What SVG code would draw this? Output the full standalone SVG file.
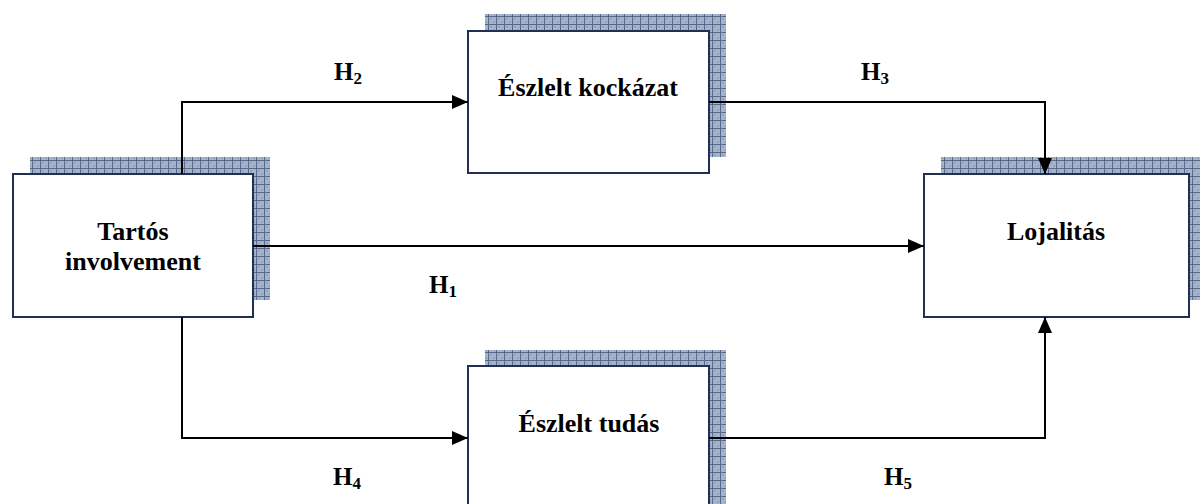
<svg xmlns="http://www.w3.org/2000/svg" width="1200" height="504" viewBox="0 0 1200 504">
  <defs>
    <!-- checkered grid used for the offset box shadows -->
    <pattern id="grid" x="0" y="0" width="8" height="8" patternUnits="userSpaceOnUse">
      <rect width="8" height="8" fill="#a7b3c8"/>
      <rect x="2" y="2" width="2" height="2" fill="#94a2ba"/>
      <rect x="5" y="5" width="2" height="2" fill="#94a2ba"/>
      <path d="M0 0.5H8M0.5 0V8" stroke="#55698c" stroke-width="1"/>
    </pattern>
    <marker id="arrow" viewBox="0 0 16 14" refX="16" refY="7" markerWidth="16" markerHeight="14" markerUnits="userSpaceOnUse" orient="auto">
      <path d="M0 0L16 7L0 14Z" fill="#000"/>
    </marker>
  </defs>
  <style>
    .shadow { fill: url(#grid); }
    .box { fill: #fff; stroke: #1f3052; stroke-width: 2; }
    .label { font-family: "Times New Roman", "Liberation Serif", serif; font-weight: bold; font-size: 26px; fill: #000; text-anchor: middle; }
    .hyp { font-family: "Times New Roman", "Liberation Serif", serif; font-weight: bold; font-size: 25px; fill: #000; }
    .sub { font-size: 17px; }
    .edge { fill: none; stroke: #000; stroke-width: 2; }
  </style>

  <rect width="1200" height="504" fill="#fff"/>

  <g id="node-tartos">
    <rect class="shadow" x="30" y="157" width="240" height="143"/>
    <rect class="box" x="13" y="174" width="240" height="143"/>
    <text class="label" x="133" y="240">Tartós</text>
    <text class="label" x="133" y="270">involvement</text>
  </g>

  <g id="node-kockazat">
    <rect class="shadow" x="485" y="14" width="241" height="143"/>
    <rect class="box" x="468" y="31" width="241" height="142"/>
    <text class="label" x="588" y="96">Észlelt kockázat</text>
  </g>

  <g id="node-lojalitas">
    <rect class="shadow" x="941" y="157" width="265" height="143"/>
    <rect class="box" x="924" y="174" width="265" height="143"/>
    <text class="label" x="1056" y="240">Lojalitás</text>
  </g>

  <g id="node-tudas">
    <rect class="shadow" x="485" y="350" width="241" height="160"/>
    <rect class="box" x="468" y="366" width="241" height="150"/>
    <text class="label" x="589" y="432">Észlelt tudás</text>
  </g>

  <!-- connectors run over the shadows, ending at box edges -->
  <g id="connectors">
    <!-- H2: involvement -> perceived risk -->
    <path class="edge" d="M182 174V102H468" marker-end="url(#arrow)"/>
    <!-- H3: perceived risk -> loyalty -->
    <path class="edge" d="M709 102H1045V174" marker-end="url(#arrow)"/>
    <!-- H1: involvement -> loyalty -->
    <path class="edge" d="M253 246H924" marker-end="url(#arrow)"/>
    <!-- H4: involvement -> perceived knowledge -->
    <path class="edge" d="M182 317V438H468" marker-end="url(#arrow)"/>
    <!-- H5: perceived knowledge -> loyalty -->
    <path class="edge" d="M709 438H1045V317" marker-end="url(#arrow)"/>
  </g>

  <g id="labels">
    <text class="hyp" x="334" y="80">H<tspan class="sub" dy="4">2</tspan></text>
    <text class="hyp" x="861" y="80">H<tspan class="sub" dy="4">3</tspan></text>
    <text class="hyp" x="429" y="293">H<tspan class="sub" dy="4">1</tspan></text>
    <text class="hyp" x="333" y="485">H<tspan class="sub" dy="4">4</tspan></text>
    <text class="hyp" x="884" y="485">H<tspan class="sub" dy="4">5</tspan></text>
  </g>
</svg>
